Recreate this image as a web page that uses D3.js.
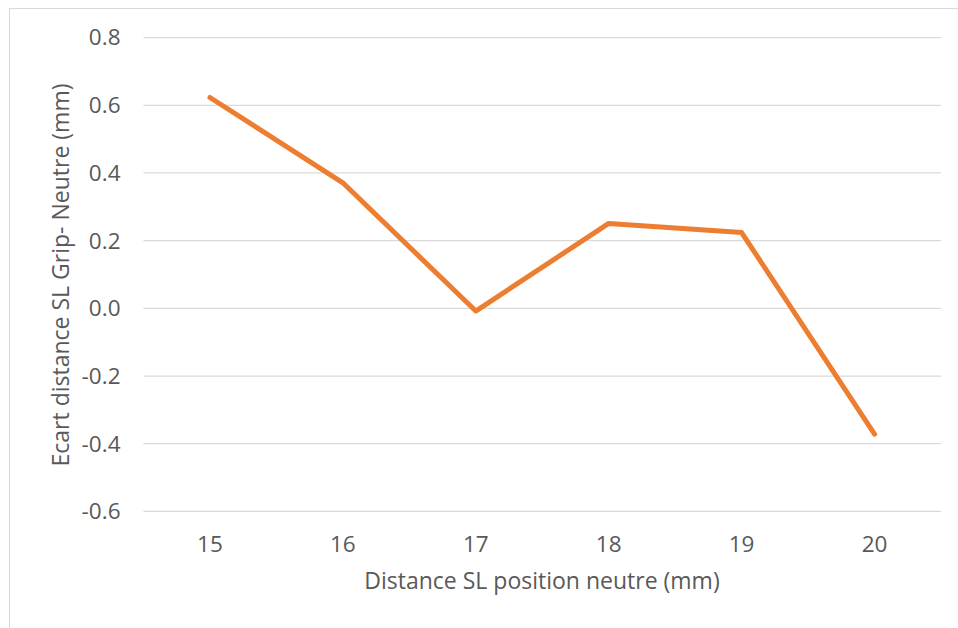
<!DOCTYPE html>
<html>
<head>
<meta charset="utf-8">
<script src="https://cdn.jsdelivr.net/npm/d3@7"></script>
<style>
  html, body { margin: 0; padding: 0; background: #fff; }
  svg { display: block; }
  text { font-family: "Open Sans", sans-serif; fill: #595959; }
</style>
</head>
<body>
<svg id="chart" width="958" height="628"></svg>
<script>
// Distance SL in neutral position (mm)
const categories = ["15", "16", "17", "18", "19", "20"];
// Gap in SL distance between grip and neutral (mm)
const values = [0.623, 0.371, -0.008, 0.251, 0.224, -0.372];
const yTicks = [-0.6, -0.4, -0.2, 0.0, 0.2, 0.4, 0.6, 0.8];

const svg = d3.select("#chart");

// outer chart frame
svg.append("rect")
  .attr("x", 9.5).attr("y", 8.5)
  .attr("width", 960).attr("height", 640)
  .attr("fill", "#fff").attr("stroke", "#d9d9d9").attr("stroke-width", 1);

const plot = { left: 143.5, right: 941, top: 37.6, bottom: 511.4 };

const x = d3.scaleBand()
  .domain(categories)
  .range([plot.left, plot.right])
  .paddingInner(0).paddingOuter(0);

const y = d3.scaleLinear()
  .domain([-0.6, 0.8])
  .range([plot.bottom, plot.top]);

// tick format with a plain hyphen for negatives
const fmt = d => d.toFixed(1);

// horizontal gridlines
svg.append("g")
  .selectAll("line")
  .data(yTicks)
  .join("line")
  .attr("x1", plot.left).attr("x2", plot.right)
  .attr("y1", d => y(d)).attr("y2", d => y(d))
  .attr("stroke", "#d9d9d9").attr("stroke-width", 1.3);

// y tick labels
svg.append("g")
  .selectAll("text")
  .data(yTicks)
  .join("text")
  .attr("x", 120.5)
  .attr("y", d => y(d))
  .attr("dy", "0.35em")
  .attr("text-anchor", "end")
  .style("font-size", "22.5px")
  .text(fmt);

// x tick labels
svg.append("g")
  .selectAll("text")
  .data(categories)
  .join("text")
  .attr("x", d => x(d) + x.bandwidth() / 2)
  .attr("y", 544)
  .attr("dy", "0.35em")
  .attr("text-anchor", "middle")
  .style("font-size", "22.5px")
  .text(d => d);

// axis titles
svg.append("text")
  .attr("x", 542).attr("y", 581)
  .attr("dy", "0.35em")
  .attr("text-anchor", "middle")
  .style("font-size", "23px")
  .text("Distance SL position neutre (mm)");

svg.append("text")
  .attr("transform", "translate(61,275) rotate(-90)")
  .attr("dy", "0.35em")
  .attr("text-anchor", "middle")
  .style("font-size", "23px")
  .text("Ecart distance SL Grip- Neutre (mm)");

// data line
const line = d3.line()
  .x((d, i) => x(categories[i]) + x.bandwidth() / 2)
  .y(d => y(d));

svg.append("path")
  .datum(values)
  .attr("d", line)
  .attr("fill", "none")
  .attr("stroke", "#ED7D31")
  .attr("stroke-width", 5)
  .attr("stroke-linecap", "round")
  .attr("stroke-linejoin", "round");
</script>
</body>
</html>
